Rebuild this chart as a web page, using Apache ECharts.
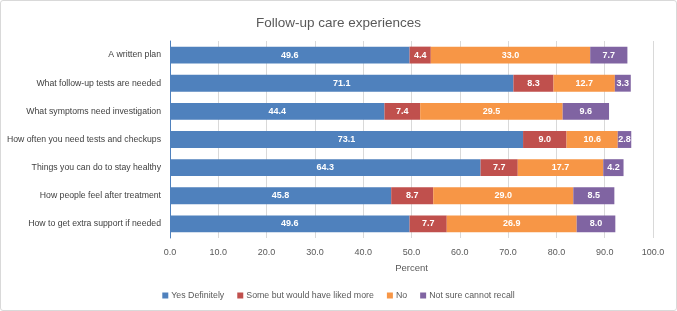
<!DOCTYPE html>
<html>
<head>
<meta charset="utf-8">
<script src="https://cdn.jsdelivr.net/npm/echarts@6/dist/echarts.min.js"></script>
<style>
  html, body { margin: 0; padding: 0; background: #fff; }
  #chart { width: 677px; height: 311px; box-sizing: border-box; border: 1px solid #d9d9d9; border-radius: 3px; }
</style>
</head>
<body>
<div id="chart"></div>
<script>
// categories, top to bottom
const categories = [
    'A written plan',
    'What follow-up tests are needed',
    'What symptoms need investigation',
    'How often you need tests and checkups',
    'Things you can do to stay healthy',
    'How people feel after treatment',
    'How to get extra support if needed'
];
const seriesNames = ['Yes Definitely', 'Some but would have liked more', 'No', 'Not sure cannot recall'];
const yesDefinitely = [49.6, 71.1, 44.4, 73.1, 64.3, 45.8, 49.6];
const someButMore = [4.4, 8.3, 7.4, 9.0, 7.7, 8.7, 7.7];
const noValues = [33.0, 12.7, 29.5, 10.6, 17.7, 29.0, 26.9];
const notSure = [7.7, 3.3, 9.6, 2.8, 4.2, 8.5, 8.0];
const colors = ['#4f81bd', '#c0504d', '#f79646', '#8064a2'];

const FONT = 'Liberation Sans';
let myChart = echarts.init(document.getElementById('chart'));

function makeSeries(name, data, color) {
    return {
        name: name,
        type: 'bar',
        stack: 'total',
        barWidth: '60%',
        data: data,
        itemStyle: { color: color },
        label: {
            show: true,
            position: 'inside',
            color: '#fff',
            fontWeight: 'bold',
            fontFamily: FONT,
            fontSize: 9,
            formatter: p => p.value.toFixed(1)
        }
    };
}

let option = {
    animation: false,
    color: colors,
    title: {
        text: 'Follow-up care experiences',
        left: 'center',
        top: 10,
        textStyle: { fontFamily: FONT, fontSize: 13.5, fontWeight: 'normal', color: '#595959' }
    },
    legend: {
        data: seriesNames,
        bottom: 5,
        left: 'center',
        itemWidth: 6,
        itemHeight: 6,
        itemGap: 13,
        icon: 'rect',
        textStyle: { fontFamily: FONT, fontSize: 8.8, color: '#595959', padding: [0, 0, 0, -2] }
    },
    grid: { left: 169, right: 23, top: 40, bottom: 72, outerBoundsMode: 'none', containLabel: false },
    xAxis: {
        type: 'value',
        min: 0,
        max: 100,
        interval: 10,
        name: 'Percent',
        nameLocation: 'middle',
        nameGap: 25,
        nameTextStyle: { fontFamily: FONT, fontSize: 9.5, color: '#595959' },
        axisLine: { show: false },
        axisTick: { show: false },
        axisLabel: { fontFamily: FONT, fontSize: 9, color: '#595959', margin: 10, formatter: v => v.toFixed(1) },
        splitLine: { lineStyle: { color: '#d9d9d9' } }
    },
    yAxis: {
        type: 'category',
        inverse: true,
        data: categories,
        axisLine: { show: true, lineStyle: { color: '#4f81bd' } },
        axisTick: { show: false },
        axisLabel: { fontFamily: FONT, fontSize: 8.7, color: '#404040', margin: 9 }
    },
    series: [
        makeSeries(seriesNames[0], yesDefinitely, colors[0]),
        makeSeries(seriesNames[1], someButMore, colors[1]),
        makeSeries(seriesNames[2], noValues, colors[2]),
        makeSeries(seriesNames[3], notSure, colors[3])
    ]
};
myChart.setOption(option);
</script>
</body>
</html>
